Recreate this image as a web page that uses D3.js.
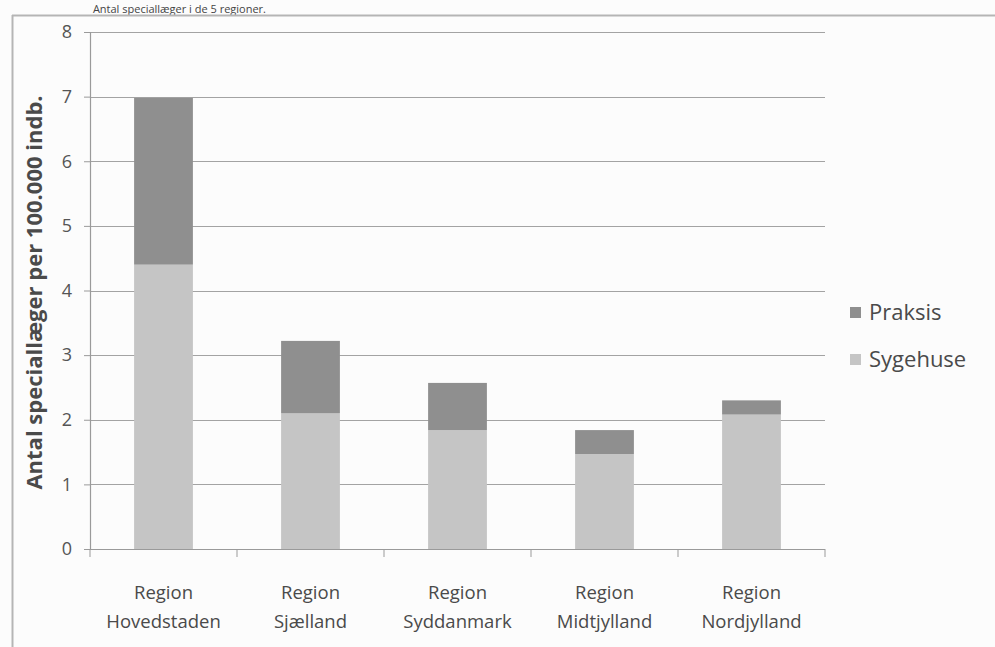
<!DOCTYPE html>
<html>
<head>
<meta charset="utf-8">
<script src="https://cdn.jsdelivr.net/npm/d3@7"></script>
<style>
  html, body { margin: 0; padding: 0; background: #fcfcfc; }
  svg { display: block; }
  text { font-family: "Open Sans", "Noto Sans", sans-serif; }
</style>
</head>
<body>
<svg id="chart" width="995" height="647"></svg>
<script>
// Specialists per 100,000 inhabitants by region
const regions = [
  ["Region", "Hovedstaden"],
  ["Region", "Sjælland"],
  ["Region", "Syddanmark"],
  ["Region", "Midtjylland"],
  ["Region", "Nordjylland"]
];
const sygehuse = [4.40, 2.10, 1.84, 1.47, 2.08];
const praksis  = [2.58, 1.12, 0.73, 0.37, 0.22];
const seriesNames = ["Sygehuse", "Praksis"];
const seriesColors = { Sygehuse: "#c5c5c5", Praksis: "#8f8f8f" };
const yTicks = [0, 1, 2, 3, 4, 5, 6, 7, 8];

const svg = d3.select("#chart");
const margin = { left: 90, right: 170, top: 32, bottom: 98 };
const W = 995, H = 647;
const plotW = W - margin.left - margin.right;
const plotH = H - margin.top - margin.bottom;

// Caption above the frame
svg.append("text")
  .attr("x", 266).attr("y", 13)
  .attr("text-anchor", "end")
  .attr("font-size", 11)
  .attr("fill", "#444")
  .text("Antal speciallæger i de 5 regioner.");
svg.append("line").attr("x1", 12).attr("x2", 995).attr("y1", 15.5).attr("y2", 15.5)
  .attr("stroke", "#b5b5b5").attr("stroke-width", 2);
svg.append("line").attr("x1", 12.5).attr("x2", 12.5).attr("y1", 15).attr("y2", 647)
  .attr("stroke", "#b5b5b5").attr("stroke-width", 2);

const g = svg.append("g").attr("transform", `translate(${margin.left},${margin.top})`);

const x = d3.scaleBand().domain(d3.range(regions.length)).range([0, plotW]).paddingInner(0.6).paddingOuter(0.3);
const y = d3.scaleLinear().domain([0, 8]).range([plotH, 0]);

// Gridlines
g.append("g")
  .selectAll("line").data(yTicks.filter(t => t > 0)).join("line")
  .attr("x1", 0).attr("x2", plotW)
  .attr("y1", d => Math.round(y(d)) + 0.5).attr("y2", d => Math.round(y(d)) + 0.5)
  .attr("stroke", "#a3a3a3").attr("stroke-width", 1.2);

// Stacked bars
const rows = regions.map((r, i) => ({ i, Sygehuse: sygehuse[i], Praksis: praksis[i] }));
const stack = d3.stack().keys(seriesNames)(rows);
g.append("g").selectAll("g").data(stack).join("g")
  .attr("fill", d => seriesColors[d.key])
  .selectAll("rect").data(d => d).join("rect")
  .attr("x", d => x(d.data.i))
  .attr("width", x.bandwidth())
  .attr("y", d => y(d[1]))
  .attr("height", d => y(d[0]) - y(d[1]));

// Y axis
const yAxis = g.append("g").call(d3.axisLeft(y).tickValues(yTicks).tickSize(6).tickPadding(12));
yAxis.select(".domain").attr("stroke", "#9a9a9a").attr("stroke-width", 1.2);
yAxis.selectAll(".tick line").attr("stroke", "#9a9a9a");
yAxis.selectAll(".tick text").attr("font-size", 18).attr("fill", "#555")
  .style("font-family", "\"Open Sans\", sans-serif");

// X axis with tick marks at category boundaries
const xAxisG = g.append("g").attr("transform", `translate(0,${plotH})`);
xAxisG.append("line").attr("x1", 0).attr("x2", plotW).attr("y1", 0.5).attr("y2", 0.5)
  .attr("stroke", "#9a9a9a").attr("stroke-width", 1.2);
xAxisG.selectAll("line.b").data(d3.range(regions.length + 1)).join("line")
  .attr("class", "b")
  .attr("x1", k => k * plotW / regions.length).attr("x2", k => k * plotW / regions.length)
  .attr("y1", 0).attr("y2", 8)
  .attr("stroke", "#9a9a9a");
const xl = xAxisG.selectAll("text.cat").data(regions).join("text")
  .attr("class", "cat")
  .attr("text-anchor", "middle")
  .attr("font-size", 18.5)
  .attr("fill", "#4a4a4a")
  .attr("x", (d, i) => x(i) + x.bandwidth() / 2);
xl.append("tspan").attr("x", (d, i) => x(i) + x.bandwidth() / 2).attr("y", 50).text(d => d[0]);
xl.append("tspan").attr("x", (d, i) => x(i) + x.bandwidth() / 2).attr("y", 79).text(d => d[1]);

// Y axis title
svg.append("text")
  .attr("transform", `translate(42,${margin.top + plotH / 2 + 2}) rotate(-90)`)
  .attr("text-anchor", "middle")
  .attr("font-size", 22)
  .attr("font-weight", "bold")
  .attr("fill", "#4a4a4a")
  .text("Antal speciallæger per 100.000 indb.");

// Legend
const legend = svg.append("g").attr("transform", "translate(850,0)");
const legendItems = ["Praksis", "Sygehuse"];
legendItems.forEach((name, k) => {
  const yy = 312 + k * 47;
  legend.append("rect").attr("x", 0).attr("y", yy - 5).attr("width", 11).attr("height", 11)
    .attr("fill", seriesColors[name]);
  legend.append("text").attr("x", 19).attr("y", yy + 8)
    .attr("font-size", 22).attr("fill", "#4a4a4a").text(name);
});
</script>
</body>
</html>
